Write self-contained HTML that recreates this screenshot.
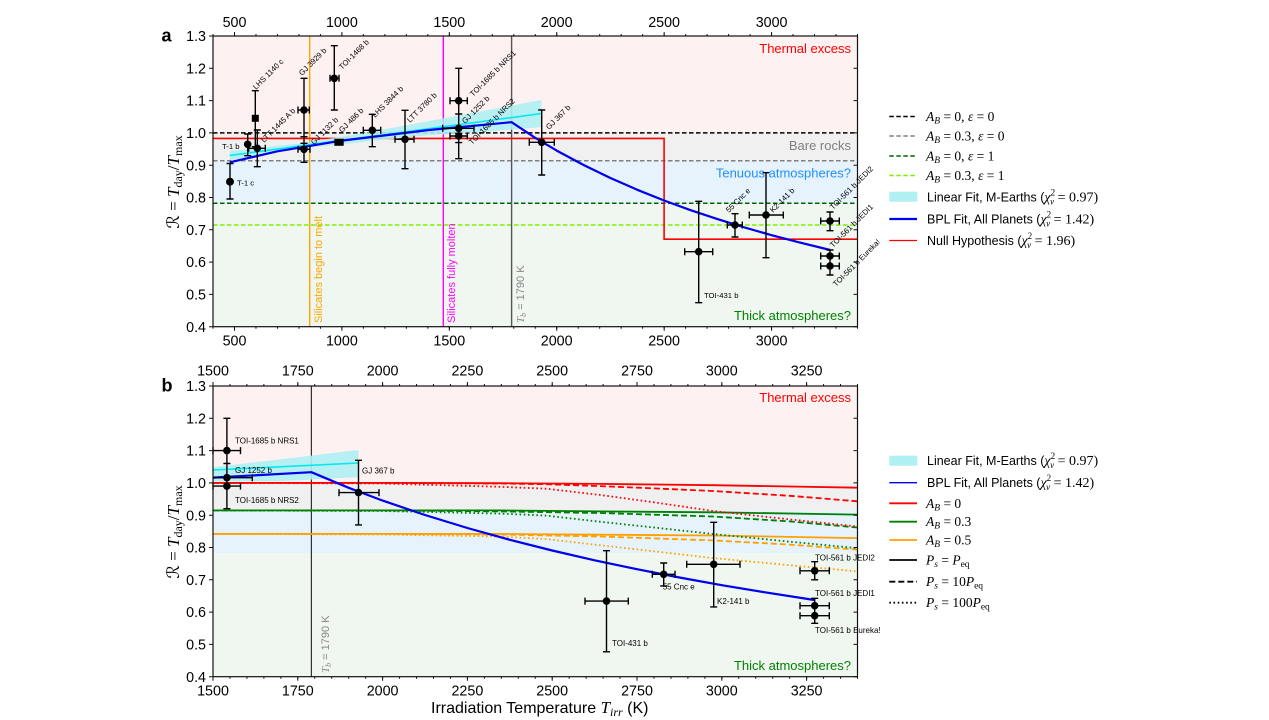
<!DOCTYPE html>
<html><head><meta charset="utf-8"><style>
html,body{margin:0;padding:0;background:#fff;}
svg{display:block;}
.t{font-family:"Liberation Sans",Arial,sans-serif;}
.m{font-family:"Liberation Serif","DejaVu Serif",serif;}
</style></head><body>
<svg width="1269" height="720" viewBox="0 0 1269 720" xmlns="http://www.w3.org/2000/svg">
<rect width="1269" height="720" fill="#fff"/>

<!-- ================= PANEL A ================= -->
<rect x="213" y="36" width="644.5" height="96.9" fill="#fdf1f1"/>
<rect x="213" y="132.9" width="644.5" height="27.8" fill="#f0f0f0"/>
<rect x="213" y="160.7" width="644.5" height="42.6" fill="#e6f3fd"/>
<rect x="213" y="203.3" width="644.5" height="123.4" fill="#f0f7f0"/>

<g stroke-width="1.5" stroke-dasharray="4.5 2.5" fill="none">
<line x1="213" y1="132.9" x2="857.5" y2="132.9" stroke="#000"/>
<line x1="213" y1="160.7" x2="857.5" y2="160.7" stroke="#808080"/>
<line x1="213" y1="203.3" x2="857.5" y2="203.3" stroke="#006400"/>
<line x1="213" y1="225" x2="857.5" y2="225" stroke="#7cf000"/>
</g>
<line x1="309.7" y1="36" x2="309.7" y2="326.7" stroke="#ffa500" stroke-width="1.4"/>
<line x1="443.3" y1="36" x2="443.3" y2="326.7" stroke="#ff00ff" stroke-width="1.4"/>
<line x1="511.6" y1="36" x2="511.6" y2="326.7" stroke="#555" stroke-width="1.4"/>
<path d="M213 138.4H664.1V239.2H857.5" fill="none" stroke="#ff0000" stroke-width="1.6"/>

<polygon points="229.8,151 298.9,143.6 363.4,133.1 427.8,121.3 492.3,109.2 541.5,100 541.5,127.1 492.3,131.1 427.8,135.2 363.4,141.9 298.9,148.7 229.8,160" fill="#aff0f2" fill-opacity="0.9"/>
<line x1="229.8" y1="155.5" x2="541.5" y2="113.5" stroke="#00e8f0" stroke-width="1.6"/>
<polyline points="229.8,162.3 277.4,151.3 341.9,140.6 428,130.1 511.6,122.2 535.2,137.8 556.7,150.6 583.6,165 610.4,178 637.3,189.8 664.1,200.5 691,210.3 717.8,219.2 744.7,227.5 771.6,235.2 798.5,242.2 830.2,250" fill="none" stroke="#0000ee" stroke-width="2.2" stroke-linejoin="round"/>

<!-- error bars a -->
<path fill="none" stroke="#000" stroke-width="1.4" d="M230 163.5V199M226.5 163.5H233.5M226.5 199H233.5
M247.7 134V155.7M244.2 134H251.2M244.2 155.7H251.2
M255.3 90.7V146.7M251.8 90.7H258.8M251.8 146.7H258.8
M257.3 130V166.7M253.8 130H260.8M253.8 166.7H260.8M248.7 148.3H265.3M248.7 144.8V151.8M265.3 144.8V151.8
M304 78.3V143.3M300.5 78.3H307.5M300.5 143.3H307.5M298 110H309.3M298 106.5V113.5M309.3 106.5V113.5
M304 136.7V162.3M300.5 136.7H307.5M300.5 162.3H307.5M298 149.3H310M298 145.8V152.8M310 145.8V152.8
M334.3 45.7V110M330.8 45.7H337.8M330.8 110H337.8M330 78.3H339M330 74.8V81.8M339 74.8V81.8
M335 142.3H343M335 138.8V145.8M343 138.8V145.8
M372.3 114.3V146.7M368.8 114.3H375.8M368.8 146.7H375.8M363.3 130.3H380.7M363.3 126.8V133.8M380.7 126.8V133.8
M405 110.3V168.7M401.5 110.3H408.5M401.5 168.7H408.5M395 139.3H414M395 135.8V142.8M414 135.8V142.8
M458.7 68.3V133.3M455.2 68.3H462.2M455.2 133.3H462.2M450 100.7H467.3M450 97.2V104.2M467.3 97.2V104.2
M458.7 114V142.6M455.2 114H462.2M455.2 142.6H462.2M442.7 128.3H474M442.7 124.8V131.8M474 124.8V131.8
M458.7 113.5V158.7M455.2 158.7H462.2M450 136H467.3M450 132.5V139.5M467.3 132.5V139.5
M541.7 110V175M538.2 110H545.2M538.2 175H545.2M529.3 142.3H554.3M529.3 138.8V145.8M554.3 138.8V145.8
M735 213.7V237M731.5 213.7H738.5M731.5 237H738.5M727.3 225H742.3M727.3 221.5V228.5M742.3 221.5V228.5
M698.7 201.3V302.7M695.2 201.3H702.2M695.2 302.7H702.2M684.7 251.7H712.7M684.7 248.2V255.2M712.7 248.2V255.2
M766 172.7V257.7M762.5 172.7H769.5M762.5 257.7H769.5M749.3 215H783.3M749.3 211.5V218.5M783.3 211.5V218.5
M830 212V230.7M826.5 212H833.5M826.5 230.7H833.5M820.7 221H839.3M820.7 217.5V224.5M839.3 217.5V224.5
M830 250V275M826.5 250H833.5M826.5 275H833.5M820.7 256H839.3M820.7 252.5V259.5M839.3 252.5V259.5M820.7 266H839.3M820.7 262.5V269.5M839.3 262.5V269.5"/>
<g fill="#000">
<circle cx="230" cy="181.7" r="4"/><circle cx="247.7" cy="144.3" r="3.8"/>
<rect x="251.8" y="114.8" width="7" height="7"/>
<circle cx="257.3" cy="148.3" r="3.8"/><circle cx="304" cy="110" r="3.8"/><circle cx="304" cy="149.3" r="3.8"/>
<circle cx="334.3" cy="78.3" r="3.8"/><rect x="335.5" y="138.8" width="7" height="7"/>
<circle cx="372.3" cy="130.3" r="3.8"/><circle cx="405" cy="139.3" r="3.8"/>
<circle cx="458.7" cy="100.7" r="3.8"/><circle cx="458.7" cy="128.3" r="3.8"/><circle cx="458.7" cy="136" r="3.8"/>
<circle cx="541.7" cy="142.3" r="3.8"/><circle cx="735" cy="225" r="3.8"/><circle cx="698.7" cy="251.7" r="3.8"/>
<circle cx="766" cy="215" r="3.8"/><circle cx="830" cy="221" r="3.8"/><circle cx="830" cy="256" r="3.8"/><circle cx="830" cy="266" r="3.8"/>
</g>

<!-- planet labels a -->
<g class="t" font-size="7.7" fill="#000">
<text x="222" y="149">T-1 b</text>
<text x="237" y="185.5">T-1 c</text>
<text x="704" y="298">TOI-431 b</text>
<text transform="translate(256,90) rotate(-45)">LHS 1140 c</text>
<text transform="translate(264,143) rotate(-45)">LTT 1445 A b</text>
<text transform="translate(302,76) rotate(-45)">GJ 3929 b</text>
<text transform="translate(314,145) rotate(-45)">GJ 1132 b</text>
<text transform="translate(342,70) rotate(-45)">TOI-1468 b</text>
<text transform="translate(342,133) rotate(-45)">GJ 486 b</text>
<text transform="translate(375,118) rotate(-45)">LHS 3844 b</text>
<text transform="translate(410,123) rotate(-45)">LTT 3780 b</text>
<text transform="translate(473,97) rotate(-45)">TOI-1685 b NRS1</text>
<text transform="translate(465,124) rotate(-45)">GJ 1252 b</text>
<text transform="translate(472,145) rotate(-45)">TOI-1685 b NRS2</text>
<text transform="translate(549,130) rotate(-45)">GJ 367 b</text>
<text transform="translate(729,213) rotate(-45)">55 Cnc e</text>
<text transform="translate(773,213) rotate(-45)">K2-141 b</text>
<text transform="translate(833,210) rotate(-45)">TOI-561 b JEDI2</text>
<text transform="translate(833,248) rotate(-45)">TOI-561 b JEDI1</text>
<text transform="translate(836,287) rotate(-45)">TOI-561 b Eureka!</text>
</g>

<!-- vertical line labels a -->
<text class="t" font-size="11" fill="#ffa500" transform="translate(322,323) rotate(-90)">Silicates begin to melt</text>
<text class="t" font-size="11" fill="#ff00ff" transform="translate(455,323) rotate(-90)">Silicates fully molten</text>
<text font-size="11" fill="#888" transform="translate(524,323) rotate(-90)"><tspan class="m" font-style="italic">T</tspan><tspan class="m" font-style="italic" font-size="8" dy="2">b</tspan><tspan class="t" dy="-2"> = 1790 K</tspan></text>

<!-- region labels a -->
<g class="t" font-size="13" text-anchor="end">
<text x="851" y="53" fill="#ff0000">Thermal excess</text>
<text x="851" y="150" fill="#808080">Bare rocks</text>
<text x="851" y="177.5" fill="#1e90ff">Tenuous atmospheres?</text>
<text x="851" y="320" fill="#008000">Thick atmospheres?</text>
</g>

<!-- axes a -->
<rect x="213" y="36" width="644.5" height="290.7" fill="none" stroke="#111" stroke-width="1.2"/>
<g stroke="#111">
<line x1="234" y1="328.7" x2="860" y2="328.7" stroke-width="4" stroke-dasharray="1 106.415"/>
<line x1="212.5" y1="327.7" x2="858.5" y2="327.7" stroke-width="2" stroke-dasharray="1 20.483"/>
<line x1="234" y1="34" x2="860" y2="34" stroke-width="4" stroke-dasharray="1 106.415"/>
<line x1="212.5" y1="35" x2="858.5" y2="35" stroke-width="2" stroke-dasharray="1 20.483"/>
<line x1="211" y1="35.5" x2="211" y2="328" stroke-width="4" stroke-dasharray="1 31.3"/>
<line x1="855.5" y1="35.5" x2="855.5" y2="328" stroke-width="4" stroke-dasharray="1 31.3"/>
</g>
<g class="t" font-size="14.3" fill="#000" text-anchor="middle">
<text x="234.5" y="27">500</text><text x="341.9" y="27">1000</text><text x="449.3" y="27">1500</text><text x="556.7" y="27">2000</text><text x="664.1" y="27">2500</text><text x="771.6" y="27">3000</text>
<text x="234.5" y="345.5">500</text><text x="341.9" y="345.5">1000</text><text x="449.3" y="345.5">1500</text><text x="556.7" y="345.5">2000</text><text x="664.1" y="345.5">2500</text><text x="771.6" y="345.5">3000</text>
</g>
<g class="t" font-size="14.3" fill="#000" text-anchor="end">
<text x="206" y="41.1">1.3</text><text x="206" y="73.4">1.2</text><text x="206" y="105.7">1.1</text><text x="206" y="138">1.0</text><text x="206" y="170.3">0.9</text><text x="206" y="202.6">0.8</text><text x="206" y="234.9">0.7</text><text x="206" y="267.2">0.6</text><text x="206" y="299.5">0.5</text><text x="206" y="331.8">0.4</text>
</g>
<text class="t" font-size="18" font-weight="bold" x="161.5" y="41.5">a</text>
<text class="m" font-size="17" text-anchor="middle" transform="translate(179,182) rotate(-90)">ℛ = <tspan font-style="italic">T</tspan><tspan font-size="12" dy="3">day</tspan><tspan dy="-3">/</tspan><tspan font-style="italic">T</tspan><tspan font-size="12" dy="3">max</tspan></text>

<!-- legend a -->
<g stroke-width="1.6" fill="none">
<line x1="889.3" y1="116.5" x2="917" y2="116.5" stroke="#000" stroke-dasharray="4.5 2.5"/>
<line x1="889.3" y1="136" x2="917" y2="136" stroke="#808080" stroke-dasharray="4.5 2.5"/>
<line x1="889.3" y1="156" x2="917" y2="156" stroke="#006400" stroke-dasharray="4.5 2.5"/>
<line x1="889.3" y1="175.5" x2="917" y2="175.5" stroke="#7cf000" stroke-dasharray="4.5 2.5"/>
<line x1="889.3" y1="219" x2="917" y2="219" stroke="#0000ee" stroke-width="2.2"/>
<line x1="889.3" y1="240.5" x2="917" y2="240.5" stroke="#ff0000" stroke-width="1.3"/>
</g>
<rect x="889.3" y="191.7" width="28" height="10" fill="#aff0f2"/>
<g class="m" font-size="13.5" fill="#000">
<text x="926" y="121"><tspan font-style="italic">A</tspan><tspan font-style="italic" font-size="9.5" dy="2.5">B</tspan><tspan dy="-2.5"> = 0, </tspan><tspan font-style="italic">ε</tspan> = 0</text>
<text x="926" y="140.5"><tspan font-style="italic">A</tspan><tspan font-style="italic" font-size="9.5" dy="2.5">B</tspan><tspan dy="-2.5"> = 0.3, </tspan><tspan font-style="italic">ε</tspan> = 0</text>
<text x="926" y="160.5"><tspan font-style="italic">A</tspan><tspan font-style="italic" font-size="9.5" dy="2.5">B</tspan><tspan dy="-2.5"> = 0, </tspan><tspan font-style="italic">ε</tspan> = 1</text>
<text x="926" y="180"><tspan font-style="italic">A</tspan><tspan font-style="italic" font-size="9.5" dy="2.5">B</tspan><tspan dy="-2.5"> = 0.3, </tspan><tspan font-style="italic">ε</tspan> = 1</text>
</g>
<g font-size="12.5" fill="#000">
<text x="927" y="201.5"><tspan class="t">Linear Fit, M-Earths (</tspan><tspan class="m" font-size="14" font-style="italic">χ</tspan><tspan class="m" font-size="9" dy="-6">2</tspan><tspan class="m" font-size="9" font-style="italic" dx="-5" dy="9">ν</tspan><tspan class="m" font-size="14" dy="-3"> = 0.97)</tspan></text>
<text x="927" y="223.5"><tspan class="t">BPL Fit, All Planets (</tspan><tspan class="m" font-size="14" font-style="italic">χ</tspan><tspan class="m" font-size="9" dy="-6">2</tspan><tspan class="m" font-size="9" font-style="italic" dx="-5" dy="9">ν</tspan><tspan class="m" font-size="14" dy="-3"> = 1.42)</tspan></text>
<text x="927" y="245"><tspan class="t">Null Hypothesis (</tspan><tspan class="m" font-size="14" font-style="italic">χ</tspan><tspan class="m" font-size="9" dy="-6">2</tspan><tspan class="m" font-size="9" font-style="italic" dx="-5" dy="9">ν</tspan><tspan class="m" font-size="14" dy="-3"> = 1.96)</tspan></text>
</g>

<!-- ================= PANEL B ================= -->
<rect x="213" y="386" width="644.5" height="96.9" fill="#fdf1f1"/>
<rect x="213" y="482.9" width="644.5" height="27.5" fill="#f0f0f0"/>
<rect x="213" y="510.4" width="644.5" height="42.9" fill="#e6f3fd"/>
<rect x="213" y="553.3" width="644.5" height="123.4" fill="#f0f7f0"/>

<line x1="311.4" y1="386" x2="311.4" y2="676.7" stroke="#333" stroke-width="1.2"/>

<g fill="none" stroke-width="1.8" stroke-linejoin="round">
<!-- solid -->
<polyline stroke="#ff0000" points="213,482.9 382.6,482.9 500,483.2 599.7,483.9 654,484.5 713,485.2 789.7,486.5 857.5,487.7"/>
<polyline stroke="#008000" points="213,510.4 500,510.4 599.7,511.4 713,512.3 857.5,514.6"/>
<polyline stroke="#ffa000" points="213,533.9 500,533.9 599.7,534.7 713,535.5 857.5,538.1"/>
<!-- dashed -->
<polyline stroke="#ff0000" stroke-dasharray="6 3" points="213,482.9 382.6,482.9 500,483.5 546.1,484.2 599.7,486.1 654,488.4 713,491 789.7,495.8 857.5,501.3"/>
<polyline stroke="#008000" stroke-dasharray="6 3" points="213,510.4 382.6,510.4 500,511.4 599.7,513 713,516.5 789.7,521.4 857.5,527.5"/>
<polyline stroke="#ffa000" stroke-dasharray="6 3" points="213,533.9 382.6,533.9 500,534.5 599.7,536.5 713,540.4 789.7,544.6 857.5,549.7"/>
<!-- dotted -->
<polyline stroke="#ff0000" stroke-dasharray="1.6 2.6" points="213,482.9 382.6,483.5 500,486.8 546.1,488.7 599.7,494.9 654,502.3 713,511 789.7,519.4 857.5,526.5"/>
<polyline stroke="#008000" stroke-dasharray="1.6 2.6" points="213,510.4 382.6,511 500,513.6 546.1,515.6 599.7,521.7 654,527.5 713,534 789.7,541.7 857.5,548.2"/>
<polyline stroke="#ffa000" stroke-dasharray="1.6 2.6" points="213,533.9 382.6,534.5 500,536.5 546.1,539.1 599.7,545.2 654,551.3 713,558.1 789.7,565.2 857.5,571.4"/>
</g>

<polygon points="213,467.3 280.8,459.2 358.5,450 358.5,477.1 280.8,481.1 213,481.5" fill="#aff0f2" fill-opacity="0.9"/>
<line x1="213" y1="470" x2="358.5" y2="463" stroke="#00e8f0" stroke-width="1.6"/>
<polyline points="213,477.6 311.4,472.2 348.7,487.8 382.6,500.6 425,515 467.4,528 509.8,539.8 552.2,550.5 594.6,560.3 637,569.2 679.4,577.5 721.8,585.2 764.2,592.2 814.4,600" fill="none" stroke="#0000ee" stroke-width="2.2" stroke-linejoin="round"/>

<path fill="none" stroke="#000" stroke-width="1.4" d="M226.9 418.3V508.7M223.4 418.3H230.4M213 450.6H240.5M240.5 447.1V454.1M213 447.1V454.1
M223.4 463.5H230.4M213 477.7H252.3M252.3 474.2V481.2
M223.4 508.7H230.4M213 486.1H240.5M240.5 482.6V489.6M213 482.6V489.6
M358.5 460.3V524.9M355 460.3H362M355 524.9H362M339 492.6H379M339 489.1V496.1M379 489.1V496.1
M606.5 550.7V651.8M603 550.7H610M603 651.8H610M585 601.1H628.3M585 597.6V604.6M628.3 597.6V604.6
M663.7 563V585.9M660.2 563H667.2M660.2 585.9H667.2M652.3 574.3H675M652.3 570.8V577.8M675 570.8V577.8
M713.7 522.3V606.9M710.2 522.3H717.2M710.2 606.9H717.2M686.7 564.3H740M686.7 560.8V567.8M740 560.8V567.8
M814.7 561.7V579.8M811.2 561.7H818.2M811.2 579.8H818.2M800 570.8H829.3M800 567.3V574.3M829.3 567.3V574.3
M814.7 598.3V623.3M811.2 598.3H818.2M811.2 623.3H818.2M800 605.7H829.3M800 602.2V609.2M829.3 602.2V609.2M800 615.7H829.3M800 612.2V619.2M829.3 612.2V619.2"/>
<g fill="#000">
<circle cx="226.9" cy="450.6" r="3.8"/><circle cx="226.9" cy="477.7" r="3.8"/><circle cx="226.9" cy="486.1" r="3.8"/>
<circle cx="358.5" cy="492.6" r="3.8"/><circle cx="606.5" cy="601.1" r="3.8"/><circle cx="663.7" cy="574.3" r="3.8"/>
<circle cx="713.7" cy="564.3" r="3.8"/><circle cx="814.7" cy="570.8" r="3.8"/><circle cx="814.7" cy="605.7" r="3.8"/><circle cx="814.7" cy="615.7" r="3.8"/>
</g>

<g class="t" font-size="8" fill="#000">
<text x="235" y="443.5">TOI-1685 b NRS1</text>
<text x="235" y="473">GJ 1252 b</text>
<text x="235" y="503">TOI-1685 b NRS2</text>
<text x="362" y="473.5">GJ 367 b</text>
<text x="662.7" y="589.5">55 Cnc e</text>
<text x="717" y="604">K2-141 b</text>
<text x="612" y="646">TOI-431 b</text>
<text x="815" y="560.5">TOI-561 b JEDI2</text>
<text x="815" y="596">TOI-561 b JEDI1</text>
<text x="815" y="633">TOI-561 b Eureka!</text>
</g>

<text font-size="11" fill="#888" transform="translate(329,673) rotate(-90)"><tspan class="m" font-style="italic">T</tspan><tspan class="m" font-style="italic" font-size="8" dy="2">b</tspan><tspan class="t" dy="-2"> = 1790 K</tspan></text>

<g class="t" font-size="13" text-anchor="end">
<text x="851" y="402" fill="#ff0000">Thermal excess</text>
<text x="851" y="670" fill="#008000">Thick atmospheres?</text>
</g>

<rect x="213" y="386" width="644.5" height="290.7" fill="none" stroke="#111" stroke-width="1.2"/>
<g stroke="#111">
<line x1="212.5" y1="678.7" x2="860" y2="678.7" stroke-width="4" stroke-dasharray="1 83.8025"/>
<line x1="212.5" y1="677.7" x2="858.5" y2="677.7" stroke-width="2" stroke-dasharray="1 15.9605"/>
<line x1="212.5" y1="384" x2="860" y2="384" stroke-width="4" stroke-dasharray="1 83.8025"/>
<line x1="212.5" y1="385" x2="858.5" y2="385" stroke-width="2" stroke-dasharray="1 15.9605"/>
<line x1="211" y1="385.5" x2="211" y2="678" stroke-width="4" stroke-dasharray="1 31.3"/>
<line x1="855.5" y1="385.5" x2="855.5" y2="678" stroke-width="4" stroke-dasharray="1 31.3"/>
</g>
<g class="t" font-size="14.3" fill="#000" text-anchor="middle">
<text x="213" y="375.5">1500</text><text x="297.8" y="375.5">1750</text><text x="382.6" y="375.5">2000</text><text x="467.4" y="375.5">2250</text><text x="552.2" y="375.5">2500</text><text x="637" y="375.5">2750</text><text x="721.8" y="375.5">3000</text><text x="806.6" y="375.5">3250</text>
<text x="213" y="695.5">1500</text><text x="297.8" y="695.5">1750</text><text x="382.6" y="695.5">2000</text><text x="467.4" y="695.5">2250</text><text x="552.2" y="695.5">2500</text><text x="637" y="695.5">2750</text><text x="721.8" y="695.5">3000</text><text x="806.6" y="695.5">3250</text>
</g>
<g class="t" font-size="14.3" fill="#000" text-anchor="end">
<text x="206" y="391.1">1.3</text><text x="206" y="423.4">1.2</text><text x="206" y="455.7">1.1</text><text x="206" y="488">1.0</text><text x="206" y="520.3">0.9</text><text x="206" y="552.6">0.8</text><text x="206" y="584.9">0.7</text><text x="206" y="617.2">0.6</text><text x="206" y="649.5">0.5</text><text x="206" y="681.8">0.4</text>
</g>
<text class="t" font-size="18" font-weight="bold" x="161.5" y="391.5">b</text>
<text class="m" font-size="17" text-anchor="middle" transform="translate(179,532) rotate(-90)">ℛ = <tspan font-style="italic">T</tspan><tspan font-size="12" dy="3">day</tspan><tspan dy="-3">/</tspan><tspan font-style="italic">T</tspan><tspan font-size="12" dy="3">max</tspan></text>
<text x="431" y="713" font-size="16"><tspan class="t">Irradiation Temperature </tspan><tspan class="m" font-style="italic" font-size="17">T</tspan><tspan class="m" font-style="italic" font-size="12" dy="3">irr</tspan><tspan class="t" dy="-3"> (K)</tspan></text>

<!-- legend b -->
<rect x="889.3" y="455.7" width="28" height="10" fill="#aff0f2"/>
<g stroke-width="1.8" fill="none">
<line x1="889.3" y1="482.7" x2="917" y2="482.7" stroke="#0000ee" stroke-width="1.4"/>
<line x1="889.3" y1="503.3" x2="917" y2="503.3" stroke="#ff0000"/>
<line x1="889.3" y1="521.7" x2="917" y2="521.7" stroke="#008000"/>
<line x1="889.3" y1="540" x2="917" y2="540" stroke="#ffa000"/>
<line x1="889.3" y1="560" x2="917" y2="560" stroke="#000"/>
<line x1="889.3" y1="581.7" x2="917" y2="581.7" stroke="#000" stroke-dasharray="6 3"/>
<line x1="889.3" y1="602.7" x2="917" y2="602.7" stroke="#000" stroke-dasharray="1.6 2.6"/>
</g>
<g font-size="12.5" fill="#000">
<text x="927" y="465.2"><tspan class="t">Linear Fit, M-Earths (</tspan><tspan class="m" font-size="14" font-style="italic">χ</tspan><tspan class="m" font-size="9" dy="-6">2</tspan><tspan class="m" font-size="9" font-style="italic" dx="-5" dy="9">ν</tspan><tspan class="m" font-size="14" dy="-3"> = 0.97)</tspan></text>
<text x="927" y="487.2"><tspan class="t">BPL Fit, All Planets (</tspan><tspan class="m" font-size="14" font-style="italic">χ</tspan><tspan class="m" font-size="9" dy="-6">2</tspan><tspan class="m" font-size="9" font-style="italic" dx="-5" dy="9">ν</tspan><tspan class="m" font-size="14" dy="-3"> = 1.42)</tspan></text>
</g>
<g class="m" font-size="13.5" fill="#000">
<text x="926" y="507.8"><tspan font-style="italic">A</tspan><tspan font-style="italic" font-size="9.5" dy="2.5">B</tspan><tspan dy="-2.5"> = 0</tspan></text>
<text x="926" y="526.2"><tspan font-style="italic">A</tspan><tspan font-style="italic" font-size="9.5" dy="2.5">B</tspan><tspan dy="-2.5"> = 0.3</tspan></text>
<text x="926" y="544.5"><tspan font-style="italic">A</tspan><tspan font-style="italic" font-size="9.5" dy="2.5">B</tspan><tspan dy="-2.5"> = 0.5</tspan></text>
<text x="926" y="564.5"><tspan font-style="italic">P</tspan><tspan font-style="italic" font-size="9.5" dy="2.5">s</tspan><tspan dy="-2.5"> = </tspan><tspan font-style="italic">P</tspan><tspan font-size="9.5" dy="2.5">eq</tspan></text>
<text x="926" y="586.2"><tspan font-style="italic">P</tspan><tspan font-style="italic" font-size="9.5" dy="2.5">s</tspan><tspan dy="-2.5"> = 10</tspan><tspan font-style="italic">P</tspan><tspan font-size="9.5" dy="2.5">eq</tspan></text>
<text x="926" y="607.2"><tspan font-style="italic">P</tspan><tspan font-style="italic" font-size="9.5" dy="2.5">s</tspan><tspan dy="-2.5"> = 100</tspan><tspan font-style="italic">P</tspan><tspan font-size="9.5" dy="2.5">eq</tspan></text>
</g>
</svg>
</body></html>
